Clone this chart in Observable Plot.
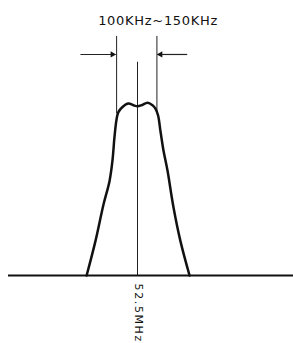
<!DOCTYPE html>
<html>
<head>
<meta charset="utf-8">
<script src="https://cdn.jsdelivr.net/npm/d3@7"></script>
<script src="https://cdn.jsdelivr.net/npm/@observablehq/plot@0.6"></script>
<style>
  html, body { margin: 0; padding: 0; background: #fff; }
</style>
</head>
<body>
<div id="chart"></div>
<script>
// Frequency offset from 52.5 MHz carrier (kHz) and relative amplitude of the passband curve
const freqOffset = [-173, -143, -116, -95, -85, -78, -71, -65, -51, -31, -14, 0, 14, 34, 51, 61, 70, 78, 88, 102, 122, 146, 177];
const amplitude  = [0, 0.20, 0.41, 0.55, 0.67, 0.81, 0.91, 0.95, 0.98, 1.0, 0.99, 0.984, 0.99, 1.005, 0.99, 0.97, 0.93, 0.84, 0.73, 0.61, 0.40, 0.20, 0];

// Bandwidth markers (kHz offsets) and their vertical extents
const bandEdges = [-71, 66];
const bandEdgeBottom = [0.94, 0.95];
const bandEdgeTop = 1.39;
const centerFreq = [0];
const centerTop = 1.24;

// Dimension arrows: outer start -> band edge, at level arrowLevel
const arrowFrom = [-194, 169];
const arrowTo = [-75, 68];
const arrowLevel = 1.285;

const bandwidthLabel = "100KHz~150KHz";
const bandwidthLabelX = 70;
const bandwidthLabelY = 1.48;
const carrierLabel = "52.5MHz";
const carrierLabelY = -0.047;

const curve = freqOffset.map((f, i) => ({f, a: amplitude[i]}));
const edges = bandEdges.map((f, i) => ({f, y1: bandEdgeBottom[i], y2: bandEdgeTop}));
const arrows = arrowFrom.map((f, i) => ({x1: f, x2: arrowTo[i], dir: f < arrowTo[i] ? 90 : -90}));

const chart = Plot.plot({
  width: 293,
  height: 343,
  marginLeft: 8,
  marginRight: 0,
  marginTop: 0,
  marginBottom: 0,
  x: {domain: [-438.6, 530.4], axis: null},
  y: {domain: [-0.3953, 1.5988], axis: null},
  style: {background: "#fff", fontFamily: "DejaVu Sans, sans-serif"},
  marks: [
    Plot.ruleY([0], {stroke: "#111", strokeWidth: 2}),
    Plot.ruleX(centerFreq, {x: d => d, y1: 0, y2: centerTop, stroke: "#222", strokeWidth: 1}),
    Plot.ruleX(edges, {x: "f", y1: "y1", y2: "y2", stroke: "#222", strokeWidth: 1}),
    Plot.line(curve, {x: "f", y: "a", curve: "catmull-rom", stroke: "#111", strokeWidth: 2.5, strokeLinejoin: "round"}),
    Plot.link(arrows, {x1: "x1", x2: "x2", y1: arrowLevel, y2: arrowLevel, stroke: "#222", strokeWidth: 1.2}),
    Plot.dot(arrows.filter(d => d.dir > 0), {x: "x2", y: arrowLevel, symbol: "triangle2", r: 3, rotate: 90, dx: -3, fill: "#111", stroke: "none"}),
    Plot.dot(arrows.filter(d => d.dir < 0), {x: "x2", y: arrowLevel, symbol: "triangle2", r: 3, rotate: -90, dx: 3, fill: "#111", stroke: "none"}),
    Plot.text([bandwidthLabel], {x: bandwidthLabelX, y: bandwidthLabelY, text: d => d, fontSize: 13, fill: "#111", textAnchor: "middle", lineAnchor: "middle"}),
    Plot.text([carrierLabel], {x: 0, y: carrierLabelY, text: d => d, fontSize: 11, fill: "#111", rotate: 90, textAnchor: "start", lineAnchor: "middle", dx: 1})
  ]
});
d3.select(chart).selectAll("text").each(function() {
  const t = this.textContent;
  if (t === bandwidthLabel) this.style.letterSpacing = "0.7px";
  if (t === carrierLabel) this.style.letterSpacing = "1.6px";
});
document.getElementById("chart").appendChild(chart);
</script>
</body>
</html>
